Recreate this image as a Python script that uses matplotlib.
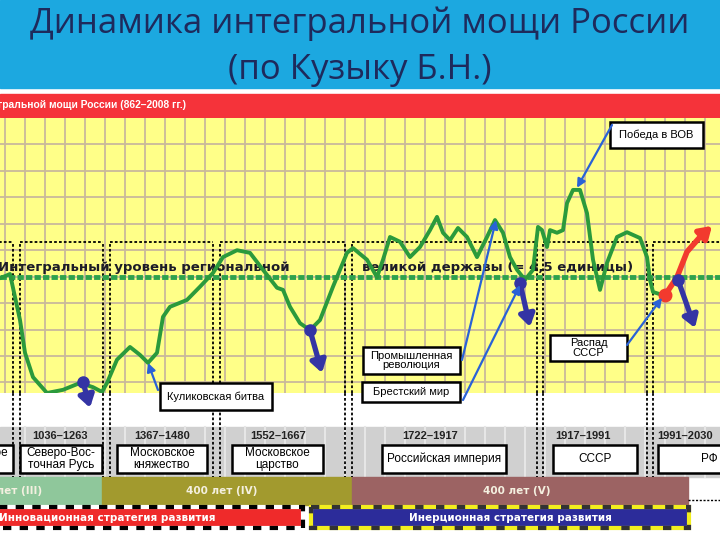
import numpy as np
import matplotlib.pyplot as plt
from matplotlib.patches import Rectangle

# integral power curve: position on the timeline (slide px) and level (units)
curve_x = [0, 10, 20, 25, 33, 47, 63, 80, 93, 102, 107, 117, 130, 140, 148, 157,
           163, 170, 187, 200, 213, 223, 237, 250, 263, 277, 283, 290, 300, 310,
           320, 333, 347, 353, 367, 377, 383, 390, 400, 410, 420, 430, 437, 443,
           450, 458, 467, 477, 487, 495, 503, 510, 517, 525, 533, 538, 542, 547,
           550, 557, 563, 567, 573, 580, 587, 593, 600, 607, 617, 627, 640, 647,
           650, 653, 663]
curve_lvl = [4.47, 4.55, 3.68, 3.06, 2.60, 2.30, 2.36, 2.49, 2.41, 2.32, 2.49, 2.93,
             3.17, 3.02, 2.87, 3.06, 3.74, 3.93, 4.06, 4.31, 4.57, 4.87, 5.00, 4.95,
             4.63, 4.29, 4.25, 3.93, 3.62, 3.49, 3.68, 4.31, 4.95, 5.04, 4.82, 4.49,
             4.82, 5.25, 5.16, 4.87, 5.06, 5.38, 5.63, 5.33, 5.19, 5.42, 5.25, 4.87,
             5.25, 5.57, 5.33, 4.87, 4.63, 4.44, 4.63, 5.44, 5.38, 5.06, 5.38, 5.33,
             5.38, 5.89, 6.14, 6.14, 5.70, 4.82, 4.25, 4.76, 5.25, 5.34, 5.23, 4.87,
             4.44, 4.21, 4.15]
threshold = 4.5

# forecast (red) for the Russian Federation
fc_x = [665, 677, 687, 700, 712]
fc_lvl = [4.15, 4.49, 4.97, 5.25, 5.46]

# decline points (dark arrows): start -> end
fall_x0 = [83, 310, 520, 678]
fall_l0 = [2.51, 3.49, 4.38, 4.44]
fall_x1 = [90, 322, 530, 695]
fall_l1 = [2.02, 2.68, 3.55, 3.53]

# events: text, box (x0, x1, y0, y1 in slide px), arrow start, target on curve
events = ['Победа в ВОВ', 'Куликовская битва', 'Промышленная\nреволюция',
          'Брестский мир', 'Распад\nСССР']
ev_box = [(610, 703, 122, 148), (160, 272, 383, 410), (363, 460, 347, 374),
          (362, 460, 382, 402), (550, 627, 335, 361)]
ev_from = [(612, 125), (158, 390), (462, 360), (463, 400), (627, 345)]
ev_x = [577, 148, 496, 520, 662]
ev_lvl = [6.18, 2.87, 5.57, 4.34, 4.10]

# periods
frame_edges = [(-20, 13), (20, 103), (110, 213), (220, 345), (352, 537), (543, 647), (653, 760)]
period_years = ['', '1036–1263', '1367–1480', '1552–1667', '1722–1917', '1917–1991', '1991–2030']
years_x = [0, 60, 162, 278, 430, 583, 685]
period_names = ['Древнерусское\nкняжество', 'Северо-Вос-\nточная Русь', 'Московское\nкняжество',
                'Московское\nцарство', 'Российская империя', 'СССР', 'РФ']
period_box = [(-110, 13), (20, 102), (117, 207), (232, 323), (382, 506), (553, 637), (658, 760)]

# 400-year cycles
cycles = ['400 лет (III)', '400 лет (IV)', '400 лет (V)']
cycle_span = [(-60, 102), (102, 352), (352, 688)]
cycle_col = ['#8fc79b', '#a29a2e', '#9c6363']

fig = plt.figure(figsize=(7.2, 5.4), dpi=100)

bg = fig.add_axes([0, 0, 1, 1])
bg.set_xlim(0, 720)
bg.set_ylim(540, 0)
bg.axis('off')
bg.set_zorder(0)

bg.add_patch(Rectangle((0, 0), 720, 88, color='#1ca8e0'))
bg.add_patch(Rectangle((0, 94), 720, 23, color='#f5333a'))
bg.text(186, 105, 'Динамика интегральной мощи России (862–2008 гг.)', ha='right', va='center',
        color='white', fontsize=7.4, fontweight='bold', family='Liberation Sans')
bg.text(360, 24, 'Динамика интегральной мощи России', ha='center', va='center',
        color='#1e2a5c', fontsize=25, family='Open Sans')
bg.text(360, 70, '(по Кузыку Б.Н.)', ha='center', va='center',
        color='#1e2a5c', fontsize=25, family='Open Sans')

# grey band with light columns
bg.add_patch(Rectangle((0, 427), 720, 50, color='#d0d0d0', zorder=1))
for gx in np.arange(25, 720, 20):
    bg.plot([gx, gx], [427, 477], color='#e6e6e6', lw=1.5, zorder=1.5)

for (a, b) in frame_edges:
    for ex in (a, b):
        bg.plot([ex, ex], [242, 477], color='black', lw=1.3, ls=(0, (1.5, 1.2)), zorder=3)

for i in range(len(period_names)):
    x0, x1 = period_box[i]
    bg.add_patch(Rectangle((x0, 445), x1 - x0, 28, facecolor='white', edgecolor='black',
                           lw=1.8, zorder=4))
    tx = 9 if i == 0 else (x0 + x1) / 2
    bg.text(tx, 459, period_names[i], ha='right' if i == 0 else 'center', va='center',
            multialignment='center', fontsize=8.5, family='Liberation Sans',
            linespacing=0.95, zorder=5)
    if period_years[i]:
        bg.text(years_x[i], 436, period_years[i], ha='center', va='center', fontsize=8,
                fontweight='bold', family='Liberation Sans', color='#222222', zorder=5)

for i in range(len(cycles)):
    x0, x1 = cycle_span[i]
    bg.add_patch(Rectangle((x0, 477), x1 - x0, 28, color=cycle_col[i], zorder=2))
    tx = 42 if i == 0 else (x0 + x1) / 2 - (5 if i == 1 else 3)
    bg.text(tx, 491, cycles[i], ha='right' if i == 0 else 'center', va='center',
            color='#f4f0e0', fontsize=7.5, fontweight='bold', family='DejaVu Sans', zorder=3)
bg.plot([688, 720], [500, 500], color='black', lw=1, ls=(0, (1.5, 1.2)))

# strategy bars
bg.add_patch(Rectangle((-5, 507), 308, 21, facecolor='#ef2a2a', edgecolor='white', lw=3, zorder=2))
bg.add_patch(Rectangle((-5, 507), 308, 21, fill=False, edgecolor='black', lw=3,
                       ls=(0, (2, 2)), zorder=2.5))
bg.text(-1, 518, 'Инновационная стратегия развития', ha='left', va='center', color='white',
        fontsize=7.5, fontweight='bold', family='DejaVu Sans', zorder=3)
bg.add_patch(Rectangle((311, 507), 378, 21, facecolor='#2c2c9a', edgecolor='#f2ee1e', lw=3, zorder=2))
bg.add_patch(Rectangle((311, 507), 378, 21, fill=False, edgecolor='#333333', lw=3,
                       ls=(0, (2, 3)), zorder=2.5))
bg.text(510, 518, 'Инерционная стратегия развития', ha='center', va='center', color='white',
        fontsize=7.5, fontweight='bold', family='DejaVu Sans', zorder=3)

# chart area
ax = fig.add_axes([0, 147 / 540, 1, 275 / 540])
ax.set_zorder(1)
ax.patch.set_alpha(0)
ax.set_xlim(0, 720)
ax.set_ylim(2.3, 7.5)
ax.add_patch(Rectangle((0, 2.3), 720, 5.2, color='#ffff88', zorder=0))
ax.set_xticks(np.arange(5, 720, 20))
ax.set_yticks(np.arange(2.5, 7.01, 0.5))
ax.grid(color='#c9b99b', lw=1.3)
ax.set_axisbelow(True)
ax.tick_params(length=0, labelbottom=False, labelleft=False)
for s in ax.spines.values():
    s.set_visible(False)

for (a, b) in frame_edges:
    ax.plot([a, b], [5.16, 5.16], color='black', lw=1.3, ls=(0, (1.5, 1.2)), zorder=2)
    for ex in (a, b):
        ax.plot([ex, ex], [2.3, 5.16], color='black', lw=1.3, ls=(0, (1.5, 1.2)), zorder=2)

ax.axhline(threshold, color='#2ea24c', lw=3.5, ls=(0, (1.3, 0.45)), zorder=3)
ax.text(-2, 4.67, 'Интегральный уровень региональной', ha='left', va='center',
        fontsize=9.5, fontweight='bold', color='#1c1c28', zorder=4)
ax.text(362, 4.67, 'великой державы (= 4,5 единицы)', ha='left', va='center',
        fontsize=9.5, fontweight='bold', color='#1c1c28', zorder=4)

ax.plot(curve_x, curve_lvl, color='#2b9a3c', lw=2.8, solid_joinstyle='round',
        solid_capstyle='round', zorder=5)

ax.plot(fc_x[:-1], fc_lvl[:-1], color='#f23a2e', lw=4, solid_capstyle='round', zorder=6)
ax.annotate('', xy=(fc_x[-1], fc_lvl[-1]), xytext=(fc_x[-2], fc_lvl[-2]),
            arrowprops=dict(arrowstyle='-|>,head_width=0.45,head_length=0.7', color='#f23a2e',
                            lw=4, shrinkA=0, shrinkB=0), annotation_clip=False, zorder=6)
ax.plot(fc_x[0], fc_lvl[0], 'o', ms=9, color='#f23a2e', zorder=7, clip_on=False)

for i in range(len(fall_x0)):
    ax.annotate('', xy=(fall_x1[i], fall_l1[i]), xytext=(fall_x0[i], fall_l0[i]),
                arrowprops=dict(arrowstyle='-|>,head_width=0.45,head_length=0.7', color='#3434a4',
                                lw=3.8, shrinkA=0, shrinkB=0), annotation_clip=False, zorder=7)
    ax.plot(fall_x0[i], fall_l0[i], 'o', ms=8, color='#3434a4', zorder=7, clip_on=False)

# event labels on top
top = fig.add_axes([0, 0, 1, 1])
top.set_zorder(2)
top.patch.set_alpha(0)
top.set_xlim(0, 720)
top.set_ylim(540, 0)
top.axis('off')

for i in range(len(events)):
    x0, x1, y0, y1 = ev_box[i]
    top.add_patch(Rectangle((x0, y0), x1 - x0, y1 - y0, facecolor='white', edgecolor='black', lw=1.8))
    top.text((x0 + x1) / 2, (y0 + y1) / 2, events[i], ha='center', va='center', fontsize=8,
             family='Liberation Sans', linespacing=0.95)
    top.annotate('', xy=(ev_x[i], ev_lvl[i]), xycoords=ax.transData, xytext=ev_from[i],
                 textcoords='data',
                 arrowprops=dict(arrowstyle='-|>,head_width=0.25,head_length=0.5', color='#2a62d6',
                                 lw=1.6, shrinkA=0, shrinkB=0))

fig.savefig('out.png', dpi=100)
